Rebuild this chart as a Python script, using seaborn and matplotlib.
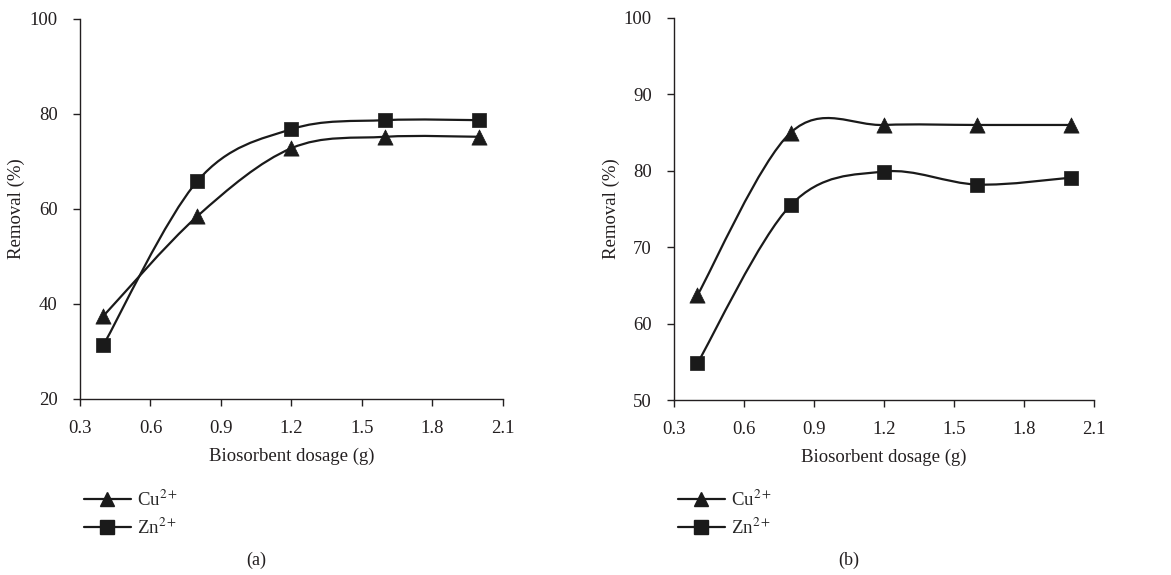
import matplotlib
matplotlib.use('Agg')
import numpy as np
import matplotlib.pyplot as plt
import seaborn as sns
from matplotlib.path import Path
from matplotlib.patches import PathPatch
from matplotlib.lines import Line2D

# data
dosage = [0.4, 0.8, 1.2, 1.6, 2.0]
cu_a = [37.5, 58.5, 72.8, 75.2, 75.2]
zn_a = [31.4, 65.9, 76.8, 78.7, 78.7]
cu_b = [63.7, 85.0, 86.0, 86.0, 86.0]
zn_b = [54.8, 75.5, 79.9, 78.2, 79.1]

sns.set_style('ticks')
plt.rcParams['font.family'] = ['Liberation Serif', 'DejaVu Serif']
plt.rcParams['mathtext.fontset'] = 'stix'
FS = 13.5


def smooth_path(x, y):
    # excel-like smoothed line: cubic bezier through the points
    pts = np.column_stack([x, y])
    n = len(pts)
    verts = [tuple(pts[0])]
    codes = [Path.MOVETO]
    for i in range(n - 1):
        p0 = pts[i - 1] if i > 0 else pts[i]
        p1 = pts[i]
        p2 = pts[i + 1]
        p3 = pts[i + 2] if i + 2 < n else pts[i + 1]
        c1 = p1 + (p2 - p0) / 6
        c2 = p2 - (p3 - p1) / 6
        verts += [tuple(c1), tuple(c2), tuple(p2)]
        codes += [Path.CURVE4] * 3
    return Path(verts, codes)


fig = plt.figure(figsize=(11.71, 5.75), dpi=100)
ax_a = fig.add_axes([0.0683, 0.3061, 0.3612, 0.6609])
ax_b = fig.add_axes([0.5756, 0.3043, 0.3587, 0.6644])

panels = [(ax_a, cu_a, zn_a, (20, 100), [20, 40, 60, 80, 100], '(a)'),
          (ax_b, cu_b, zn_b, (50, 100), [50, 60, 70, 80, 90, 100], '(b)')]

for ax, cu, zn, ylim, yticks, cap in panels:
    for vals, mk, ms in [(cu, '^', 120), (zn, 's', 100)]:
        ax.add_patch(PathPatch(smooth_path(dosage, vals), facecolor='none',
                               edgecolor='#1a1a1a', lw=1.6, zorder=2))
        sns.scatterplot(x=dosage, y=vals, marker=mk, s=ms, color='#1a1a1a',
                        edgecolor='#1a1a1a', linewidth=0.5, ax=ax, zorder=3, legend=False)
    ax.set_xlim(0.3, 2.1)
    ax.set_xticks([0.3, 0.6, 0.9, 1.2, 1.5, 1.8, 2.1])
    ax.set_ylim(*ylim)
    ax.set_yticks(yticks)
    ax.set_xlabel('Biosorbent dosage (g)', fontsize=FS, color='#231f20', labelpad=8)
    ax.set_ylabel('Removal (%)', fontsize=FS, color='#231f20', labelpad=3)
    ax.tick_params(labelsize=FS, colors='#231f20', length=5, width=1, direction='out')
    ax.tick_params(axis='x', pad=10)
    ax.tick_params(axis='y', pad=11)
    for s in ['top', 'right']:
        ax.spines[s].set_visible(False)
    for s in ['left', 'bottom']:
        ax.spines[s].set_color('#231f20')
        ax.spines[s].set_linewidth(1)
    ax.set_facecolor('white')

    handles = [Line2D([], [], color='#1a1a1a', lw=1.6, marker='^', markersize=10.5),
               Line2D([], [], color='#1a1a1a', lw=1.6, marker='s', markersize=9.5)]
    pos = ax.get_position()
    ax.legend(handles, ['Cu$^{2+}$', 'Zn$^{2+}$'], loc='upper left',
              bbox_to_anchor=(pos.x0 - 0.003, 0.162), bbox_transform=fig.transFigure,
              frameon=False, fontsize=FS, handlelength=2.5, handletextpad=0.35,
              labelspacing=0.42, borderaxespad=0)
    fig.text(pos.x0 + pos.width / 2 - 0.03, 0.018, cap, fontsize=FS - 0.5,
             color='#231f20', ha='center')

fig.savefig('out.png', dpi=100, facecolor='white')
